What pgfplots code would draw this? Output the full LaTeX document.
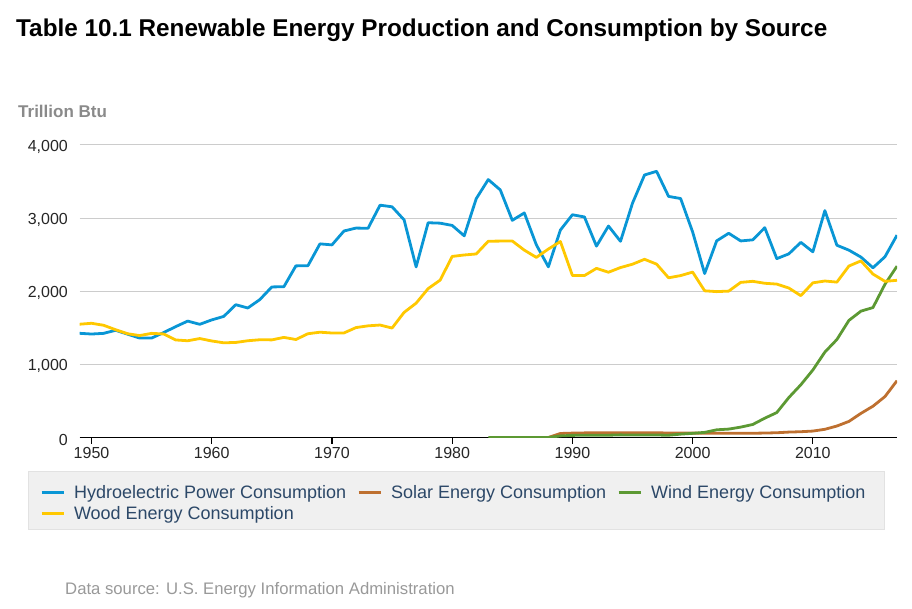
\documentclass[border=0pt]{standalone}
\usepackage{fontspec}
\setmainfont{Liberation Sans}
\usepackage{pgfplots}
\pgfplotsset{compat=1.18}

\definecolor{hydro}{RGB}{9,150,213}
\definecolor{solar}{RGB}{190,112,48}
\definecolor{wind}{RGB}{92,153,51}
\definecolor{wood}{RGB}{255,200,0}
\definecolor{gridgray}{RGB}{204,204,204}
\definecolor{legendbg}{RGB}{240,240,240}
\definecolor{legendframe}{RGB}{226,226,226}
\definecolor{legendtext}{RGB}{44,72,104}
\definecolor{unitgray}{RGB}{138,138,138}
\definecolor{srcgray}{RGB}{153,153,153}

\begin{document}
\begin{tikzpicture}
\path[use as bounding box] (0,0) rectangle (912pt,608pt);

% title, unit, legend box, source
\node[anchor=base west, inner sep=0pt, font=\fontsize{24.3}{28}\selectfont\bfseries]
  at (16pt,571pt) {Table 10.1 Renewable Energy Production and Consumption by Source};
\node[anchor=base west, inner sep=0pt, text=unitgray, font=\fontsize{17}{20}\selectfont\bfseries]
  at (18pt,490.7pt) {Trillion Btu};
\draw[fill=legendbg, draw=legendframe, line width=1pt] (28pt,137pt) rectangle (884pt,79pt);
\node[anchor=base west, inner sep=0pt, text=srcgray, font=\fontsize{16.7}{19}\selectfont]
  at (65pt,14pt) {Data source: U.S. Energy Information Administration};

\begin{axis}[
  scale only axis,
  width=817.5pt, height=292.5pt,
  at={(79.5pt,170.5pt)}, anchor=south west,
  xmin=1949, xmax=2017, ymin=0, ymax=4000,
  axis x line*=bottom, axis y line*=left,
  axis line style={-},
  x axis line style={black, line width=1.3pt},
  y axis line style={draw=none},
  xtick={1950,1960,1970,1980,1990,2000,2010},
  xticklabels={1950,1960,1970,1980,1990,2000,2010},
  ytick={0,1000,2000,3000,4000},
  yticklabels={0,{1,000},{2,000},{3,000},{4,000}},
  ymajorgrids,
  major grid style={line width=1pt, color=gridgray},
  tick align=outside, major tick length=6pt,
  xtick style={black, line width=1.2pt},
  ytick style={draw=none},
  ticklabel style={font=\fontsize{16}{19}\selectfont, text=black!85},
  yticklabel style={anchor=east, inner sep=0pt, xshift=-5.5pt, yshift=-2pt},
  xticklabel style={anchor=north, inner sep=0pt, yshift=-3.2pt},
  legend columns=3, legend cell align=left,
  legend style={at={(-0.0483,-0.1643)}, anchor=north west, draw=none, fill=none,
    inner sep=0pt, outer sep=0pt, row sep=8.1pt,
    font=\fontsize{18}{21}\selectfont, text=legendtext,
    nodes={inner sep=0pt, text height=12.9pt, text depth=0pt, text=legendtext},
    /tikz/every odd column/.append style={column sep=9pt},
    /tikz/every even column/.append style={column sep=11pt}},
  legend image code/.code={\draw[#1, line width=3pt] (0pt,0pt) -- (22pt,0pt);},
  every axis plot/.append style={line width=2.8pt, line join=round, no markers},
]

% Hydroelectric power consumption
\addplot[hydro] coordinates {
(1949,1425)(1950,1415)(1951,1424)(1952,1466)(1953,1413)(1954,1360)(1955,1360)
(1956,1435)(1957,1516)(1958,1592)(1959,1548)(1960,1608)(1961,1656)(1962,1816)
(1963,1771)(1964,1886)(1965,2059)(1966,2062)(1967,2347)(1968,2349)(1969,2648)
(1970,2634)(1971,2824)(1972,2864)(1973,2861)(1974,3177)(1975,3155)(1976,2976)
(1977,2333)(1978,2937)(1979,2931)(1980,2900)(1981,2758)(1982,3266)(1983,3527)
(1984,3386)(1985,2970)(1986,3071)(1987,2635)(1988,2334)(1989,2837)(1990,3046)
(1991,3016)(1992,2617)(1993,2892)(1994,2683)(1995,3205)(1996,3590)(1997,3640)
(1998,3297)(1999,3268)(2000,2811)(2001,2242)(2002,2689)(2003,2793)(2004,2688)
(2005,2703)(2006,2869)(2007,2446)(2008,2511)(2009,2669)(2010,2539)(2011,3103)
(2012,2629)(2013,2562)(2014,2467)(2015,2321)(2016,2472)(2017,2767)
};
\addlegendentry{Hydroelectric Power Consumption}

% Solar energy consumption
\addplot[solar] coordinates {
(1984,0)(1985,0)(1986,0)(1987,0)(1988,0)(1989,55)(1990,60)(1991,63)(1992,64)
(1993,66)(1994,65)(1995,66)(1996,65)(1997,64)(1998,62)(1999,61)(2000,60)
(2001,59)(2002,58)(2003,57)(2004,58)(2005,58)(2006,61)(2007,65)(2008,74)
(2009,79)(2010,88)(2011,112)(2012,157)(2013,220)(2014,330)(2015,428)
(2016,560)(2017,777)
};
\addlegendentry{Solar Energy Consumption}

% Wind energy consumption
\addplot[wind] coordinates {
(1983,0)(1984,0)(1985,0)(1986,0)(1987,0)(1988,0)(1989,22)(1990,29)(1991,31)
(1992,30)(1993,31)(1994,36)(1995,33)(1996,33)(1997,34)(1998,31)(1999,46)
(2000,57)(2001,70)(2002,105)(2003,115)(2004,142)(2005,178)(2006,264)(2007,341)
(2008,546)(2009,721)(2010,923)(2011,1168)(2012,1340)(2013,1601)(2014,1728)
(2015,1777)(2016,2096)(2017,2343)
};
\addlegendentry{Wind Energy Consumption}

% Wood energy consumption
\addplot[wood] coordinates {
(1949,1549)(1950,1562)(1951,1535)(1952,1474)(1953,1419)(1954,1394)(1955,1424)
(1956,1416)(1957,1334)(1958,1323)(1959,1353)(1960,1320)(1961,1295)(1962,1300)
(1963,1323)(1964,1337)(1965,1335)(1966,1369)(1967,1340)(1968,1419)(1969,1440)
(1970,1429)(1971,1430)(1972,1503)(1973,1527)(1974,1538)(1975,1497)(1976,1711)
(1977,1837)(1978,2036)(1979,2152)(1980,2476)(1981,2496)(1982,2510)(1983,2684)
(1984,2686)(1985,2687)(1986,2562)(1987,2463)(1988,2577)(1989,2680)(1990,2216)
(1991,2214)(1992,2313)(1993,2260)(1994,2324)(1995,2370)(1996,2437)(1997,2371)
(1998,2184)(1999,2214)(2000,2262)(2001,2006)(2002,1995)(2003,2002)(2004,2121)
(2005,2136)(2006,2109)(2007,2098)(2008,2044)(2009,1940)(2010,2115)(2011,2140)
(2012,2125)(2013,2345)(2014,2415)(2015,2235)(2016,2135)(2017,2150)
};
\addlegendentry{Wood Energy Consumption}

\end{axis}
\end{tikzpicture}
\end{document}
